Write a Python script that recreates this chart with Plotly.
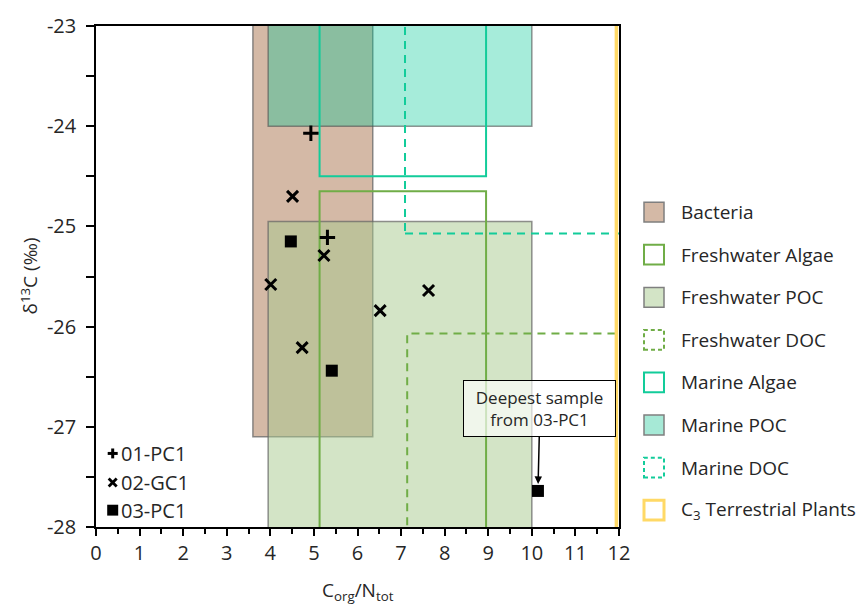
import plotly.graph_objects as go

# ---- source end-member boxes (C/N range, d13C range) ----
box_names = ["Bacteria", "Freshwater Algae", "Freshwater POC", "Freshwater DOC",
             "Marine Algae", "Marine POC", "Marine DOC", "C<sub>3</sub> Terrestrial Plants"]
box_cn_lo = [3.6, 5.13, 3.95, 7.14, 5.13, 3.95, 7.09, 11.94]
box_cn_hi = [6.35, 8.95, 10.0, 13.0, 8.95, 10.0, 13.0, 14.0]
box_d13c_lo = [-27.1, -28.5, -28.5, -28.5, -24.5, -24.0, -25.07, -28.5]
box_d13c_hi = [-22.0, -24.65, -24.95, -26.07, -22.0, -22.0, -22.0, -22.0]

# ---- core samples ----
pc1_01_cn = [4.93, 5.31]
pc1_01_d13c = [-24.07, -25.11]
gc1_02_cn = [4.51, 5.23, 4.01, 6.52, 4.73, 7.63]
gc1_02_d13c = [-24.70, -25.29, -25.58, -25.84, -26.21, -25.64]
pc1_03_cn = [4.47, 5.41, 10.14]
pc1_03_d13c = [-25.15, -26.44, -27.64]

x_ticks = list(range(0, 13))
y_ticks = [-28, -27, -26, -25, -24, -23]
y_tick_text = ["-28", "-27", "-26", "-25", "-24", "-23"]

FONT = "Open Sans"
TXT = "#262626"

# drawing style for each box (fill, outline colour, outline width, dash)
box_style = {
    "Bacteria": ("#d4b9a6", "rgba(110,110,110,0.8)", 1.5, "solid"),
    "Freshwater Algae": ("rgba(0,0,0,0)", "#70ad47", 2, "solid"),
    "Freshwater POC": ("rgba(167,201,141,0.5)", "rgba(100,100,100,0.7)", 1.5, "solid"),
    "Freshwater DOC": ("rgba(0,0,0,0)", "#70ad47", 2, "8px,6px"),
    "Marine Algae": ("rgba(0,0,0,0)", "#12cc9a", 2, "solid"),
    "Marine POC": ("rgba(0,200,150,0.35)", "rgba(80,80,80,0.6)", 1.5, "solid"),
    "Marine DOC": ("rgba(0,0,0,0)", "#12cc9a", 2, "8px,6px"),
    "C<sub>3</sub> Terrestrial Plants": ("rgba(0,0,0,0)", "#ffd966", 3.5, "solid"),
}
# legend swatch look (fill shown on white)
swatch_fill = {
    "Bacteria": "#d4b9a6", "Freshwater POC": "#d3e4c6", "Marine POC": "#a6e9d6",
}
draw_order = ["Bacteria", "Marine POC", "Freshwater POC", "Freshwater Algae",
              "Marine Algae", "Freshwater DOC", "Marine DOC", "C<sub>3</sub> Terrestrial Plants"]

W, H = 862, 605
L, R, T, B = 96, 619, 21, 527


def pxx(X):
    return (X - L) / (R - L)


def pxy(Y):
    return 1 - (Y - T) / (B - T)


fig = go.Figure()
shapes = []
for name in draw_order:
    i = box_names.index(name)
    fill, lc, lw, dash = box_style[name]
    shapes.append(dict(type="rect", xref="x", yref="y", layer="below",
                       x0=box_cn_lo[i], x1=box_cn_hi[i],
                       y0=box_d13c_lo[i], y1=box_d13c_hi[i],
                       fillcolor=fill, line=dict(color=lc, width=lw, dash=dash)))

fig.add_trace(go.Scatter(x=pc1_01_cn, y=pc1_01_d13c, mode="markers", name="01-PC1",
                         marker=dict(symbol="cross-thin", size=11,
                                     line=dict(color="black", width=3))))
fig.add_trace(go.Scatter(x=gc1_02_cn, y=gc1_02_d13c, mode="markers", name="02-GC1",
                         marker=dict(symbol="x-thin", size=11,
                                     line=dict(color="black", width=3))))
fig.add_trace(go.Scatter(x=pc1_03_cn, y=pc1_03_d13c, mode="markers", name="03-PC1",
                         marker=dict(symbol="square", size=12, color="black")))

annotations = []

# right-hand key of source boxes
key_y0, key_step = 209, 43
for k, name in enumerate(box_names):
    yc = key_y0 + k * key_step
    fill, lc, lw, dash = box_style[name]
    sf = swatch_fill.get(name, "white")
    if name in ("Bacteria", "Freshwater POC", "Marine POC"):
        lc = "#7f7f7f"
        lw = 1.5
    shapes.append(dict(type="rect", xref="paper", yref="paper",
                       x0=pxx(644), x1=pxx(664), y0=pxy(yc + 10), y1=pxy(yc - 10),
                       fillcolor=sf, line=dict(color=lc, width=min(lw, 3),
                                               dash="4px,3px" if dash != "solid" else "solid")))
    annotations.append(dict(xref="paper", yref="paper", x=pxx(679), y=pxy(yc),
                            xanchor="left", yanchor="middle", showarrow=False,
                            text=name, font=dict(family=FONT, size=19, color=TXT)))

# sample key in the lower-left corner
kx = 112.7
ky = [452.7, 482, 510]
shapes += [
    dict(type="line", xref="paper", yref="paper", x0=pxx(kx - 5), x1=pxx(kx + 5),
         y0=pxy(ky[0]), y1=pxy(ky[0]), line=dict(color="black", width=3)),
    dict(type="line", xref="paper", yref="paper", x0=pxx(kx), x1=pxx(kx),
         y0=pxy(ky[0] - 5), y1=pxy(ky[0] + 5), line=dict(color="black", width=3)),
    dict(type="line", xref="paper", yref="paper", x0=pxx(kx - 4), x1=pxx(kx + 4),
         y0=pxy(ky[1] - 4), y1=pxy(ky[1] + 4), line=dict(color="black", width=2.8)),
    dict(type="line", xref="paper", yref="paper", x0=pxx(kx - 4), x1=pxx(kx + 4),
         y0=pxy(ky[1] + 4), y1=pxy(ky[1] - 4), line=dict(color="black", width=2.8)),
    dict(type="rect", xref="paper", yref="paper", x0=pxx(kx - 5.5), x1=pxx(kx + 5.5),
         y0=pxy(ky[2] + 5.5), y1=pxy(ky[2] - 5.5), fillcolor="black", line=dict(width=0)),
]
for lab, yy in zip(["01-PC1", "02-GC1", "03-PC1"], ky):
    annotations.append(dict(xref="paper", yref="paper", x=pxx(119), y=pxy(yy),
                            xanchor="left", yanchor="middle", showarrow=False,
                            text=lab, font=dict(family=FONT, size=20, color=TXT)))

# call-out for the deepest sample
annotations.append(dict(x=pc1_03_cn[-1], y=pc1_03_d13c[-1], xref="x", yref="y",
                        text="Deepest sample<br>from 03-PC1", showarrow=True,
                        ax=2, ay=-82, arrowhead=2, arrowsize=1, arrowwidth=1.5,
                        arrowcolor="black", standoff=7,
                        bgcolor="rgba(255,255,255,0.65)", bordercolor="black",
                        borderwidth=1, borderpad=0, width=151, height=55,
                        font=dict(family=FONT, size=17, color=TXT)))

# axis titles
annotations.append(dict(xref="paper", yref="paper", x=pxx(357.5), y=pxy(592),
                        xanchor="center", yanchor="middle", showarrow=False,
                        text="C<sub>org</sub>/N<sub>tot</sub>",
                        font=dict(family=FONT, size=19, color=TXT)))
annotations.append(dict(xref="paper", yref="paper", x=pxx(29), y=pxy(274),
                        xanchor="center", yanchor="middle", showarrow=False, textangle=-90,
                        text="δ<sup>13</sup>C (‰)",
                        font=dict(family=FONT, size=19, color=TXT)))

fig.update_layout(
    width=W, height=H,
    margin=dict(l=L, r=W - R, t=T, b=H - B, pad=0),
    plot_bgcolor="white", paper_bgcolor="white",
    showlegend=False,
    shapes=shapes, annotations=annotations,
    font=dict(family=FONT, size=19, color=TXT),
)
fig.update_xaxes(range=[0, 12], tickvals=x_ticks, ticks="outside", ticklen=7,
                 tickwidth=1.5, tickcolor="black", showgrid=False, zeroline=False,
                 showline=True, linecolor="black", linewidth=1.5, mirror=True,
                 tickfont=dict(family=FONT, size=20, color=TXT),
                 minor=dict(dtick=0.5, ticks="outside", ticklen=5, tickwidth=1.5,
                            tickcolor="black", showgrid=False))
fig.update_yaxes(range=[-28, -23], tickvals=y_ticks, ticktext=y_tick_text,
                 ticks="outside", ticklen=8, tickwidth=1.5, tickcolor="black",
                 showgrid=False, zeroline=False, showline=True, linecolor="black",
                 linewidth=1.5, mirror=True, ticklabelstandoff=6,
                 tickfont=dict(family=FONT, size=20, color=TXT),
                 minor=dict(dtick=0.5, ticks="outside", ticklen=8, tickwidth=1.5,
                            tickcolor="black", showgrid=False))

fig.write_html("out.html")
